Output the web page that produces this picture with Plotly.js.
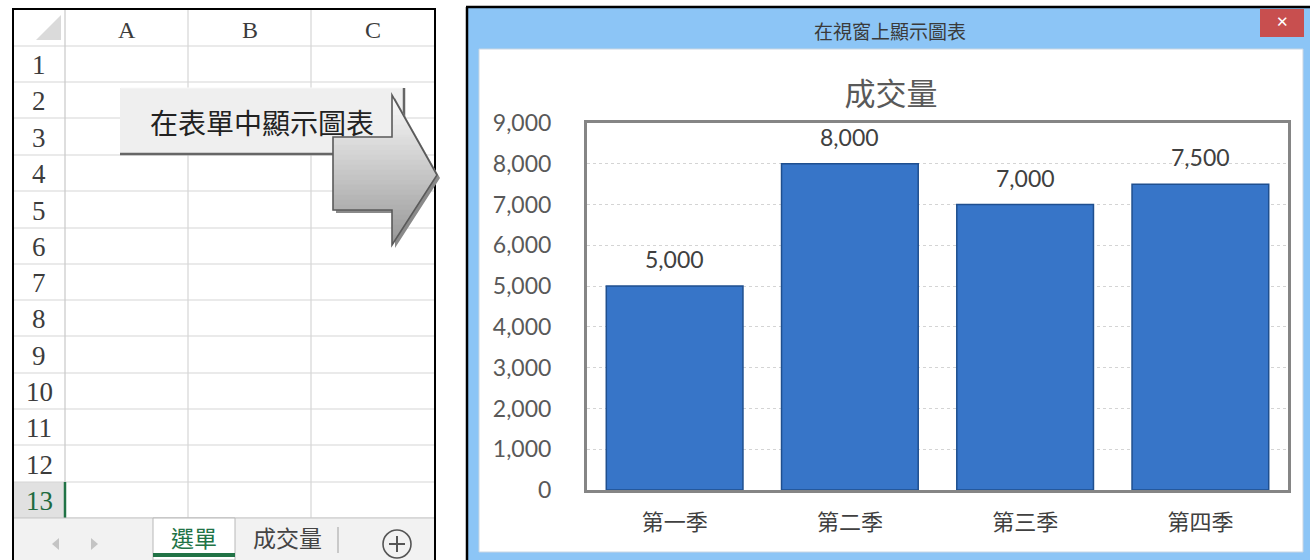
<!DOCTYPE html>
<html>
<head>
<meta charset="utf-8">
<script src="https://cdn.plot.ly/plotly-3.0.1.min.js"></script>
<style>
  html, body { margin: 0; padding: 0; background: #ffffff; }
  #chart { width: 1310px; height: 560px; }
</style>
</head>
<body>
<div id="chart"></div>
<script>
// ---------------- data ----------------
const categories = ['第一季', '第二季', '第三季', '第四季'];
const volumes = [5000, 8000, 7000, 7500];
const yTickVals = [0, 1000, 2000, 3000, 4000, 5000, 6000, 7000, 8000, 9000];
const yTickText = ['0', '1,000', '2,000', '3,000', '4,000', '5,000', '6,000', '7,000', '8,000', '9,000'];
const chartTitle = '成交量';
const windowTitle = '在視窗上顯示圖表';
const buttonLabel = '在表單中顯示圖表';
const rowLabels = ['1', '2', '3', '4', '5', '6', '7', '8', '9', '10', '11', '12', '13'];
const colLabels = ['A', 'B', 'C'];
const sheetTabs = ['選單', '成交量'];

// ---------------- helpers (pixel -> paper) ----------------
const W = 1310, H = 560;
const px = x => x / W;
const py = y => 1 - y / H;

const shapes = [];
const annotations = [];

function rect(x0, y0, x1, y1, fill, line, lw, layer) {
  shapes.push({type: 'rect', xref: 'paper', yref: 'paper',
    x0: px(x0), x1: px(x1), y0: py(y1), y1: py(y0),
    fillcolor: fill || 'rgba(0,0,0,0)',
    line: {color: line || 'rgba(0,0,0,0)', width: lw || 0},
    layer: layer || 'below'});
}
function line(x0, y0, x1, y1, color, lw, layer, dash) {
  shapes.push({type: 'line', xref: 'paper', yref: 'paper',
    x0: px(x0), x1: px(x1), y0: py(y0), y1: py(y1),
    line: {color: color, width: lw, dash: dash || 'solid'}, layer: layer || 'below'});
}
function path(pts, fill, lineColor, lw, layer) {
  const d = pts.map((p, i) => (i ? 'L' : 'M') + px(p[0]).toFixed(5) + ',' + py(p[1]).toFixed(5)).join(' ') + ' Z';
  shapes.push({type: 'path', xref: 'paper', yref: 'paper', path: d,
    fillcolor: fill || 'rgba(0,0,0,0)',
    line: {color: lineColor || 'rgba(0,0,0,0)', width: lw || 0}, layer: layer || 'above'});
}
function text(x, y, t, size, color, family, extra) {
  annotations.push(Object.assign({xref: 'paper', yref: 'paper', x: px(x), y: py(y),
    text: t, showarrow: false, xanchor: 'center', yanchor: 'middle',
    font: {size: size, color: color, family: family}}, extra || {}));
}

// ---------------- spreadsheet (left) ----------------
rect(13, 9, 435, 560, '#ffffff', null, 0);
const rowLines = [46, 82, 118, 155, 191, 228, 264, 300, 336, 373, 409, 445, 482, 518];
const colLines = [65, 188, 311];
rect(13, 482, 65, 518, '#e1e1e1', null, 0);
rowLines.forEach(y => line(13, y, 435, y, '#d6d6d6', 1.2));
colLines.forEach((x, i) => line(x, 9, x, 518, i === 0 ? '#c8c8c8' : '#d6d6d6', 1.2));
line(65, 482, 65, 518, '#217346', 2.5);
path([[36, 40], [61, 40], [61, 15]], '#dadada', null, 0, 'below');
rowLabels.forEach((r, i) => {
  const yc = (rowLines[i] + rowLines[i + 1]) / 2 + 1;
  text(39, yc, r, 27, i === 12 ? '#1e6b40' : '#3c3c3c', 'Liberation Serif, DejaVu Serif, serif');
});
colLabels.forEach((c, i) => {
  const x0 = colLines[i], x1 = i < 2 ? colLines[i + 1] : 435;
  text((x0 + x1) / 2, 30, c, 24, '#3c3c3c', 'Liberation Serif, DejaVu Serif, serif');
});
// tab bar
rect(13, 518, 435, 560, '#f2f2f2', null, 0);
line(13, 518, 435, 518, '#c6c6c6', 1);
rect(153, 518, 235, 560, '#ffffff', '#b8b8b8', 1);
rect(153, 553, 235, 557, '#217346', null, 0);
text(194, 537, sheetTabs[0], 23, '#217346', 'Noto Sans CJK TC, sans-serif');
text(287, 537, sheetTabs[1], 23, '#444444', 'Noto Sans CJK TC, sans-serif');
line(338, 527, 338, 553, '#a0a0a0', 1);
path([[52, 544], [59, 538], [59, 550]], '#c4c4c4', null, 0, 'below');
path([[98, 544], [91, 538], [91, 550]], '#c4c4c4', null, 0, 'below');
shapes.push({type: 'circle', xref: 'paper', yref: 'paper', x0: px(383), x1: px(411), y0: py(558), y1: py(530),
  line: {color: '#555555', width: 1.6}, fillcolor: 'rgba(0,0,0,0)', layer: 'below'});
line(389, 544, 405, 544, '#555555', 2);
line(397, 536, 397, 552, '#555555', 2);
rect(13, 9, 435, 561, null, '#000000', 2);

// button
rect(120, 88, 405, 155, '#efefef', null, 0, 'below');
line(121, 88, 404, 88, '#f8f8f8', 1);
line(120, 154, 405, 154, '#666666', 2.5);
line(404, 88, 404, 155, '#666666', 2.5);
text(262, 122, buttonLabel, 28, '#222222', 'Noto Sans CJK TC, sans-serif');

// arrow with vertical gradient (bands)
(function () {
  const topY = 95, botY = 245, tipY = 175, bx0 = 333, hx = 392, tipX = 437, byT = 137, byB = 210;
  const rightAt = y => y <= tipY ? hx + (tipX - hx) * (y - topY) / (tipY - topY)
                                 : hx + (tipX - hx) * (botY - y) / (botY - tipY);
  const leftAt = y => (y >= byT && y < byB) ? bx0 : hx;
  const c0 = [252, 252, 252], c1 = [150, 150, 150];
  const stops = [];
  for (let y = topY; y < botY; y += 5) stops.push(y);
  stops.push(botY);
  [byT, tipY, byB].forEach(v => { if (!stops.includes(v)) stops.push(v); });
  stops.sort((a, b) => a - b);
  const outline = [[bx0, byT], [hx, byT], [hx, topY], [tipX, tipY], [hx, botY], [hx, byB], [bx0, byB]];
  path(outline.map(p => [p[0] + 3, p[1] + 3]), '#8a8a8a', null, 0, 'above');
  for (let i = 0; i < stops.length - 1; i++) {
    const y0 = stops[i], y1 = stops[i + 1];
    const t = ((y0 + y1) / 2 - topY) / (botY - topY);
    const c = c0.map((v, k) => Math.round(v + (c1[k] - v) * t));
    const lx = leftAt(y0 + 0.01);
    const pts = [[lx, y0 - 0.3], [rightAt(y0), y0 - 0.3], [rightAt(y1), y1 + 0.3], [lx, y1 + 0.3]];
    path(pts, 'rgb(' + c.join(',') + ')', null, 0, 'above');
  }
  path(outline, null, '#5a5a5a', 1.6, 'above');
})();

// ---------------- window (right) ----------------
rect(467, 7, 1310, 560, '#8cc5f6', null, 0);
rect(479, 49, 1303, 552, '#ffffff', '#c9d6e3', 1);
rect(1260, 9, 1304, 37, '#c84f4f', null, 0);
text(1282, 22, '✕', 15, '#ffffff', 'DejaVu Sans, sans-serif');
text(890, 30, windowTitle, 19, '#3a3a3a', 'Noto Sans CJK TC, sans-serif');
line(466, 7, 1310, 7, '#000000', 2.5);
line(467, 7, 467, 560, '#000000', 2.5);

// data labels via axis scale
categories.forEach((c, i) => {
  annotations.push({xref: 'x', yref: 'y', x: c, y: volumes[i], yshift: 27,
    text: volumes[i].toLocaleString('en-US'), showarrow: false,
    font: {size: 23, color: '#404040', family: 'Lato, Open Sans, sans-serif'}});
});

const trace = {
  type: 'bar', x: categories, y: volumes,
  marker: {color: '#3775c8', line: {color: '#1f4f8f', width: 1.5}},
  hoverinfo: 'skip'
};

const layout = {
  width: W, height: H,
  margin: {l: 0, r: 0, t: 0, b: 0},
  paper_bgcolor: '#ffffff',
  plot_bgcolor: '#ffffff',
  showlegend: false,
  bargap: 0.22,
  title: {text: chartTitle, x: px(891), xanchor: 'center', y: py(94), yanchor: 'middle',
    font: {size: 31, color: '#595959', family: 'Noto Sans CJK TC, sans-serif'}},
  xaxis: {domain: [px(587), px(1288)], type: 'category', showgrid: false, ticks: '',
    showline: true, linecolor: '#858585', linewidth: 3, mirror: true,
    ticklabelstandoff: 11,
    tickfont: {size: 22, color: '#404040', family: 'Noto Sans CJK TC, sans-serif'}, fixedrange: true},
  yaxis: {domain: [py(490), py(123)], range: [0, 9000], tickvals: yTickVals, ticktext: yTickText,
    showgrid: true, gridcolor: '#d4d4d4', griddash: 'dot', gridwidth: 1, zeroline: false, ticks: '',
    showline: true, linecolor: '#858585', linewidth: 3, mirror: true,
    ticklabelstandoff: 28,
    tickfont: {size: 23, color: '#595959', family: 'Lato, Open Sans, sans-serif'}, fixedrange: true},
  shapes: shapes,
  annotations: annotations
};

Plotly.newPlot('chart', [trace], layout, {displayModeBar: false, staticPlot: true});
</script>
</body>
</html>
